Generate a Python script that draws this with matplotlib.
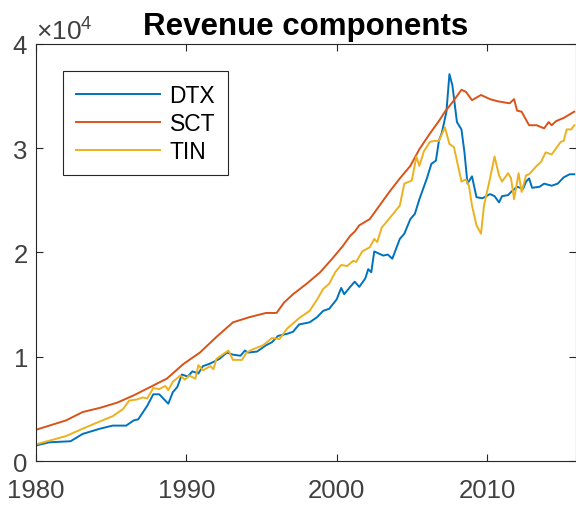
import matplotlib
matplotlib.use('Agg')
import matplotlib.pyplot as plt
from matplotlib.ticker import ScalarFormatter
import numpy as np

plt.rcParams['font.family'] = ['Liberation Sans', 'DejaVu Sans']
plt.rcParams['mathtext.fontset'] = 'custom'
plt.rcParams['mathtext.rm'] = 'Liberation Sans'
plt.rcParams['mathtext.it'] = 'Liberation Sans'

# ── Data (values in the chart's units) ────────────────────────────────────────
dtx_year = [1980.0, 1980.9, 1982.3, 1983.1, 1984.25, 1985.1, 1986.0, 1986.5, 1986.8, 1987.4,
            1987.8, 1988.2, 1988.8, 1989.1, 1989.4, 1989.7, 1990.1, 1990.4, 1990.8, 1991.1,
            1991.5, 1991.8, 1992.2, 1992.7, 1993.1, 1993.6, 1993.9, 1994.1, 1994.7, 1995.3,
            1995.7, 1996.1, 1996.7, 1997.1, 1997.5, 1998.2, 1998.7, 1999.1, 1999.5, 2000.0,
            2000.3, 2000.5, 2000.9, 2001.2, 2001.5, 2001.9, 2002.1, 2002.3, 2002.5, 2003.1,
            2003.4, 2003.7, 2004.2, 2004.5, 2004.9, 2005.2, 2005.5, 2006.0, 2006.3, 2006.6,
            2006.8, 2007.0, 2007.3, 2007.5, 2007.7, 2008.0, 2008.3, 2008.5, 2008.7, 2009.0,
            2009.3, 2009.7, 2010.2, 2010.5, 2010.8, 2011.0, 2011.4, 2011.6, 2012.0, 2012.4,
            2012.6, 2012.8, 2013.0, 2013.5, 2013.8, 2014.3, 2014.7, 2015.1, 2015.5, 2015.8]
dtx_val = [1500, 1800, 1900, 2600, 3100, 3400, 3400, 3900, 4000, 5300,
           6400, 6400, 5500, 6600, 7100, 8300, 8100, 8600, 8400, 9100,
           9300, 9500, 9800, 10400, 10200, 10100, 10600, 10400, 10500, 11100,
           11400, 12000, 12200, 12400, 13100, 13300, 13800, 14400, 14600, 15500,
           16600, 16000, 16700, 17200, 16700, 17500, 18400, 18100, 20100, 19700,
           19800, 19400, 21300, 21800, 23200, 23700, 25100, 27100, 28500, 28800,
           30700, 31500, 33500, 37100, 36000, 32500, 31800, 29600, 26600, 27300,
           25300, 25200, 25600, 25400, 24800, 25400, 25500, 25800, 26300, 26100,
           26800, 27100, 26200, 26300, 26600, 26400, 26600, 27200, 27500, 27500]

sct_year = [1980.0, 1982.0, 1983.1, 1984.25, 1985.4, 1986.5, 1987.6, 1988.7, 1989.8, 1990.9,
            1992.0, 1993.1, 1994.2, 1995.3, 1996.0, 1996.5, 1997.1, 1998.0, 1998.9, 1999.7,
            2000.4, 2000.9, 2001.2, 2001.5, 2002.2, 2002.9, 2003.5, 2004.2, 2004.9, 2005.5,
            2006.2, 2006.8, 2007.2, 2007.7, 2008.3, 2008.6, 2009.0, 2009.6, 2010.2, 2010.7,
            2011.5, 2011.8, 2012.0, 2012.3, 2012.8, 2013.3, 2013.8, 2014.1, 2014.3, 2014.6,
            2015.1, 2015.8]
sct_val = [3000, 3900, 4700, 5100, 5600, 6300, 7100, 7900, 9300, 10400,
           11900, 13300, 13800, 14200, 14200, 15200, 16000, 17000, 18100, 19400,
           20600, 21600, 22000, 22600, 23200, 24600, 25800, 27100, 28300, 29900,
           31400, 32600, 33500, 34400, 35600, 35400, 34600, 35100, 34700, 34500,
           34300, 34700, 33600, 33500, 32200, 32200, 31900, 32500, 32200, 32600,
           32900, 33500]

tin_year = [1980.0, 1982.0, 1983.1, 1984.25, 1985.1, 1985.8, 1986.2, 1986.7, 1987.1, 1987.4,
            1987.8, 1988.2, 1988.6, 1988.8, 1989.1, 1989.6, 1989.9, 1990.2, 1990.6, 1990.8,
            1991.1, 1991.6, 1991.8, 1992.0, 1992.8, 1993.1, 1993.7, 1994.0, 1994.4, 1995.1,
            1995.7, 1996.2, 1996.7, 1997.5, 1998.2, 1998.7, 1999.1, 1999.5, 1999.9, 2000.3,
            2000.7, 2001.1, 2001.3, 2001.7, 2002.2, 2002.5, 2002.7, 2003.0, 2003.3, 2004.2,
            2004.5, 2005.0, 2005.3, 2005.5, 2005.8, 2006.2, 2006.5, 2006.8, 2007.2, 2007.5,
            2007.8, 2008.3, 2008.6, 2008.8, 2009.0, 2009.3, 2009.6, 2009.8, 2010.2, 2010.5,
            2010.8, 2011.0, 2011.4, 2011.6, 2011.8, 2012.1, 2012.3, 2012.6, 2012.8, 2013.3,
            2013.6, 2013.9, 2014.3, 2014.6, 2014.9, 2015.1, 2015.3, 2015.6, 2015.8]
tin_val = [1600, 2400, 3100, 3800, 4300, 5000, 5800, 5900, 6100, 6000,
           7000, 6900, 7200, 6800, 7600, 8200, 7800, 8200, 7900, 9200,
           8700, 9100, 8800, 9800, 10600, 9700, 9700, 10400, 10700, 11100,
           11800, 11700, 12700, 13700, 14400, 15500, 16500, 17000, 18100, 18800,
           18700, 19200, 19100, 20100, 20500, 21300, 21000, 22400, 22900, 24500,
           26600, 26900, 29200, 28300, 29700, 30600, 30700, 30700, 32000, 30400,
           30100, 26800, 27000, 26400, 24500, 22600, 21800, 24500, 27100, 29200,
           27400, 26800, 27600, 27100, 25100, 27600, 25800, 27400, 27500, 28300,
           28700, 29600, 29400, 30000, 30600, 30700, 31800, 31800, 32200]

series = [('DTX', dtx_year, dtx_val, '#0072BD'),
          ('SCT', sct_year, sct_val, '#D95319'),
          ('TIN', tin_year, tin_val, '#EDB120')]

axis_grey = '#262626'

fig = plt.figure(figsize=(5.76, 5.10), dpi=100)
ax = fig.add_axes([0.0625, 0.094, 0.937, 0.818])

for name, yrs, vals, col in series:
    ax.plot(yrs, vals, color=col, lw=1.4, label=name)

ax.set_xlim(1980, 2015.9)
ax.set_ylim(0, 40000)
ax.set_xticks([1980, 1990, 2000, 2010])
ax.set_yticks([0, 10000, 20000, 30000, 40000])

fmt = ScalarFormatter(useMathText=True)
fmt.set_powerlimits((0, 0))
ax.yaxis.set_major_formatter(fmt)
ax.yaxis.get_offset_text().set_fontsize(19)
ax.yaxis.get_offset_text().set_color('#404040')

for side in ax.spines.values():
    side.set_color(axis_grey)
    side.set_linewidth(0.8)
ax.tick_params(direction='in', length=5, width=0.8, colors=axis_grey,
               labelsize=18.5, labelcolor='#404040', top=True, right=True)
ax.tick_params(axis='x', pad=12)
ax.tick_params(axis='y', pad=6)

ax.set_title('Revenue components', fontsize=22.5, fontweight='bold', pad=7)

leg = ax.legend(loc='upper left', bbox_to_anchor=(0.05, 0.935), borderaxespad=0,
                fontsize=16.5, fancybox=False, framealpha=1, edgecolor=axis_grey,
                handlelength=3.7, handletextpad=0.4, labelspacing=0.22, borderpad=0.55)
leg.get_frame().set_linewidth(0.8)

fig.savefig('out.png', dpi=100)
